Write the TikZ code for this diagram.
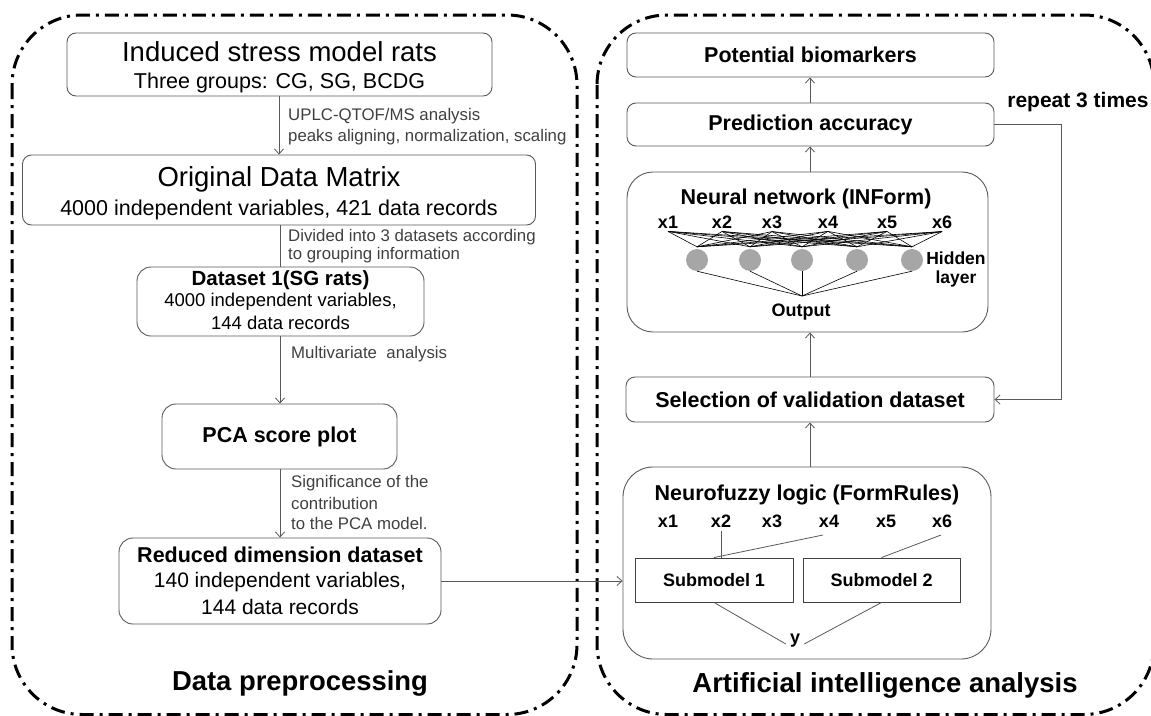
\documentclass[tikz,border=0pt]{standalone}
\usepackage{fontspec}
\setmainfont{Liberation Sans}
\usetikzlibrary{arrows.meta}
\begin{document}
\begin{tikzpicture}[x=1pt,y=-1pt,
  box/.style={draw=black!65, line width=0.9pt, rounded corners=9pt, inner sep=0pt},
  sq/.style={draw=black!75, line width=0.9pt, inner sep=0pt, font=\bfseries\fontsize{18}{21}\selectfont},
  txt/.style={inner sep=0pt},
  big/.style={txt, font=\fontsize{27.5}{31}\selectfont},
  mid/.style={txt, font=\fontsize{21.5}{25}\selectfont},
  bt/.style={txt, font=\bfseries\fontsize{21.5}{25}\selectfont},
  lbl/.style={text=black!75, font=\fontsize{16.8}{21}\selectfont, anchor=west, inner sep=0pt},
  conn/.style={draw=black!65, line width=0.8pt},
  arr/.style={conn, -{Straight Barb[length=5pt,width=9pt]}},
  frame/.style={line width=3pt, rounded corners=70pt, dash pattern=on 14pt off 6pt on 3pt off 6pt},
  xl/.style={txt, font=\bfseries\fontsize{18}{21}\selectfont},
  hid/.style={circle, fill=black!35, minimum size=22pt, inner sep=0pt},
  thin/.style={draw=black, line width=0.6pt}
]
\useasboundingbox (0,0) rectangle (1151,715);
% containers
\draw[frame] (12,15) rectangle (577,714.5);
\draw[frame] (597,15) rectangle (1154,714.5);

% ---------- left column ----------
\node[box, minimum width=425pt, minimum height=63pt] (ind) at (279.5,64.5) {};
\node[big] (ind1) at (279.5,52) {Induced stress model rats};
\node[mid] (ind2) at (279.5,83) {Three groups: CG, SG, BCDG};

\node[box, minimum width=513pt, minimum height=70pt] (odm) at (279,190) {};
\node[big] (odm1) at (279,179) {Original Data Matrix};
\node[mid] (odm2) at (279,210) {4000 independent variables, 421 data records};

\node[box, rounded corners=14pt, minimum width=287pt, minimum height=69pt] (ds1) at (280.5,301.5) {};
\node[txt, font=\bfseries\fontsize{20.5}{24}\selectfont] (ds1a) at (280.5,280) {Dataset 1(SG rats)};
\node[txt, font=\fontsize{18.5}{22}\selectfont] (ds1b) at (280.5,302) {4000 independent variables,};
\node[txt, font=\fontsize{18.5}{22}\selectfont] (ds1c) at (280.5,323) {144 data records};

\node[box, rounded corners=14pt, minimum width=235pt, minimum height=65pt] (pca) at (279.5,436.5) {};
\node[bt] (pcat) at (279.5,436.5) {PCA score plot};

\node[box, rounded corners=14pt, minimum width=322pt, minimum height=86pt] (red) at (280,581) {};
\node[txt, font=\bfseries\fontsize{21.5}{25}\selectfont] (red1) at (280,555) {Reduced dimension dataset};
\node[txt, font=\fontsize{21}{25}\selectfont] (red2) at (280,582) {140 independent variables,};
\node[txt, font=\fontsize{21}{25}\selectfont] (red3) at (280,607) {144 data records};
\node[txt, font=\bfseries\fontsize{27.4}{31}\selectfont] (dp) at (300,683) {Data preprocessing};

\draw[arr] (ind.south -| 279,0) -- (odm.north -| 279,0);
\draw[conn] (odm.south -| 280,0) -- (ds1.north -| 280,0);
\draw[arr] (ds1.south -| 280,0) -- (pca.north -| 280,0);
\draw[arr] (pca.south -| 280,0) -- (red.north -| 280,0);

\node[lbl] (l1a) at (288,116) {UPLC-QTOF/MS analysis};
\node[lbl] (l1b) at (288,137) {peaks aligning, normalization, scaling};
\node[lbl] (l2a) at (288,237) {Divided into 3 datasets according};
\node[lbl] (l2b) at (288,255) {to grouping information};
\node[lbl] (l3) at (291,354) {Multivariate\ \ analysis};
\node[lbl] (l4a) at (291,483) {Significance of the};
\node[lbl] (l4b) at (291,503) {contribution};
\node[lbl] (l4c) at (291,523) {to the PCA model.};

% ---------- right column ----------
\node[box, minimum width=367pt, minimum height=44pt] (bio) at (810.5,55) {};
\node[bt] (biot) at (810.5,55) {Potential biomarkers};
\node[box, minimum width=367pt, minimum height=43pt] (pred) at (810.5,124.5) {};
\node[bt] (predt) at (810.5,124.5) {Prediction accuracy};
\node[box, rounded corners=26pt, minimum width=361pt, minimum height=160pt] (nn) at (807.5,252) {};
\node[box, minimum width=368pt, minimum height=45pt] (sel) at (810,399.5) {};
\node[bt] (selt) at (810,399.5) {Selection of validation dataset};
\node[box, rounded corners=30pt, minimum width=368pt, minimum height=192pt] (nf) at (807,563) {};
\node[txt, font=\bfseries\fontsize{21}{25}\selectfont] (rep) at (1078,102) {repeat 3 times};
\node[txt, font=\bfseries\fontsize{27.5}{31}\selectfont] (ai) at (885,685) {Artificial intelligence analysis};

\draw[arr] (pred.north -| 810,0) -- (bio.south -| 810,0);
\draw[arr] (nn.north -| 810,0) -- (pred.south -| 810,0);
\draw[arr] (sel.north -| 810,0) -- (nn.south -| 810,0);
\draw[arr] (nf.north -| 810,0) -- (sel.south -| 810,0);
\coordinate (r1) at (1061,124.5);
\coordinate (r2) at (1061,399.5);
\draw[arr] (pred.east) -- (r1) -- (r2) -- (sel.east);

% neural network internals
\node[bt] (nnt) at (806,199) {Neural network (INForm)};
\foreach \i/\x in {1/668,2/722,3/772,4/828,5/887,6/942}{
  \node[xl] (a\i) at (\x,222) {x\i};
}
\foreach \j/\x in {1/697,2/750,3/802,4/857,5/912}{
  \node[hid] (h\j) at (\x,260) {};
}
\foreach \i in {1,...,6}{
  \foreach \j in {1,...,5}{
    \draw[thin] ([yshift=-3pt]a\i.south) -- ([yshift=2pt]h\j.north);
  }
}
\coordinate (o) at (802,296);
\foreach \j in {1,...,5}{ \draw[thin] (h\j.south) -- (o); }
\node[xl] (out) at (801,312) {Output};
\node[txt, align=center, font=\bfseries\fontsize{17.5}{19}\selectfont] (hl) at (956,269) {Hidden\\layer};

% neurofuzzy internals
\node[bt] (nft) at (807,495) {Neurofuzzy logic (FormRules)};
\foreach \i/\x in {1/668,2/721,3/772,4/829,5/886,6/942}{
  \node[xl] (b\i) at (\x,521) {x\i};
}
\node[sq, minimum width=158pt, minimum height=44pt] (s1) at (714,580) {Submodel 1};
\node[sq, minimum width=157pt, minimum height=44pt] (s2) at (881.5,580) {Submodel 2};
\node[xl] (yy) at (795,641) {y};
\draw[conn] ([yshift=-4pt]b2.south) -- (b2.south |- s1.north);
\coordinate (k4) at (823,535);
\coordinate (k6) at (941,535);
\draw[conn] (k4) -- (s1.north);
\draw[conn] (k6) -- (s2.north);
\draw[conn] (s1.south) -- ([xshift=-4pt,yshift=-3pt]yy.west);
\draw[conn] (s2.south) -- ([xshift=4pt,yshift=-3pt]yy.east);

\draw[arr] (red.east) -- (red.east -| nf.west);
\end{tikzpicture}
\end{document}
